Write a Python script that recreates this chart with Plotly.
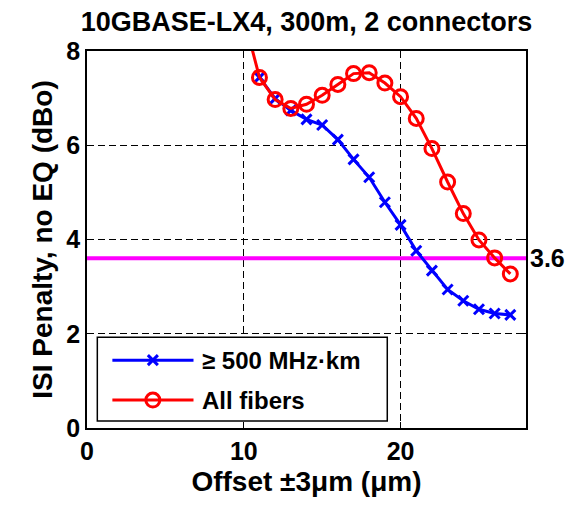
import plotly.graph_objects as go

# ---- data ----
offset_500 = [11, 12, 13, 14, 15, 16, 17, 18, 19, 20, 21, 22, 23, 24, 25, 26, 27]
penalty_500 = [7.44, 6.99, 6.74, 6.55, 6.43, 6.12, 5.70, 5.32, 4.79, 4.31, 3.76, 3.34, 2.94, 2.70, 2.52, 2.43, 2.40]

offset_all = [10, 11, 12, 13, 14, 15, 16, 17, 18, 19, 20, 21, 22, 23, 24, 25, 26, 27]
penalty_all = [8.72, 7.44, 6.97, 6.78, 6.87, 7.06, 7.29, 7.52, 7.54, 7.32, 7.03, 6.57, 5.93, 5.22, 4.55, 3.99, 3.61, 3.27]

limit_value = 3.6
x_range = [0, 28]
y_range = [0, 8]
x_ticks = [0, 10, 20]
y_ticks = [0, 2, 4, 6, 8]
legend_labels = ["\u2265 500 MHz\u00b7km", "All fibers"]
title_text = "10GBASE-LX4, 300m, 2 connectors"
x_title = "Offset \u00b13\u03bcm (\u03bcm)"
y_title = "ISI Penalty, no EQ (dBo)"

FONT = "Liberation Sans, Arial, sans-serif"
BLUE = "#0000FF"
RED = "#FF0000"
MAGENTA = "#FF00FF"

# page body has an 8px margin; compensate so the figure lands where the reference is
PAGE_OFF = 8
W, H = 574 - PAGE_OFF, 505 - PAGE_OFF

fig = go.Figure()

fig.add_trace(go.Scatter(
    x=x_range, y=[limit_value, limit_value], mode="lines",
    line=dict(color=MAGENTA, width=4), showlegend=False, hoverinfo="skip"))

fig.add_trace(go.Scatter(
    x=offset_500, y=penalty_500, mode="lines+markers", name=legend_labels[0],
    line=dict(color=BLUE, width=3),
    marker=dict(symbol="x-thin", size=10, line=dict(color=BLUE, width=3), color=BLUE),
    showlegend=False))

fig.add_trace(go.Scatter(
    x=offset_all, y=penalty_all, mode="lines+markers", name=legend_labels[1],
    line=dict(color=RED, width=3),
    marker=dict(symbol="circle-open", size=14, line=dict(color=RED, width=3), color=RED),
    showlegend=False))

# ---- custom legend (paper coords) ----
bx0, bx1, by0, by1 = 0.0235, 0.684, 0.0186, 0.241
rows_y = [0.180, 0.0742]
lx0, lx1, lmid = 0.0578, 0.2426, 0.150
shapes = [dict(type="rect", xref="paper", yref="paper", x0=bx0, x1=bx1, y0=by0, y1=by1,
               fillcolor="white", line=dict(color="black", width=1.5), layer="above")]
colors = [BLUE, RED]
for i, ry in enumerate(rows_y):
    shapes.append(dict(type="line", xref="paper", yref="paper", x0=lx0, x1=lx1, y0=ry, y1=ry,
                       line=dict(color=colors[i], width=3), layer="above"))
for sgn in (1, -1):
    shapes.append(dict(type="line", xref="paper", yref="paper", xsizemode="pixel", ysizemode="pixel",
                       xanchor=lmid, yanchor=rows_y[0], x0=-5, x1=5, y0=-5 * sgn, y1=5 * sgn,
                       line=dict(color=BLUE, width=3), layer="above"))
shapes.append(dict(type="circle", xref="paper", yref="paper", xsizemode="pixel", ysizemode="pixel",
                   xanchor=lmid, yanchor=rows_y[1], x0=-7, x1=7, y0=-7, y1=7,
                   line=dict(color=RED, width=3), layer="above"))

annotations = []
for i, ry in enumerate(rows_y):
    annotations.append(dict(xref="paper", yref="paper", x=0.2585, y=ry, text=legend_labels[i],
                            showarrow=False, xanchor="left", yanchor="middle",
                            font=dict(family=FONT, size=24, color="black", weight="bold")))
annotations.append(dict(xref="paper", yref="y", x=1.0, y=limit_value, text=str(limit_value),
                        showarrow=False, xanchor="left", yanchor="middle", xshift=2,
                        font=dict(family=FONT, size=25, color="black", weight="bold")))

axis_common = dict(
    showline=True, linecolor="black", linewidth=1.5, mirror="ticks",
    ticks="inside", ticklen=6, tickcolor="black", tickwidth=1,
    showgrid=True, gridcolor="black", gridwidth=1, griddash="7px,4px",
    zeroline=False, automargin=False,
    tickfont=dict(family=FONT, size=25, color="black", weight="bold"),
)

fig.update_layout(
    width=W, height=H,
    margin=dict(l=87 - PAGE_OFF, r=48, t=51 - PAGE_OFF, b=77),
    paper_bgcolor="white", plot_bgcolor="white",
    title=dict(text=title_text, x=0.5, xref="paper", xanchor="center",
               y=1 - (22 - PAGE_OFF) / H, yanchor="middle",
               font=dict(family=FONT, size=27, color="black", weight="bold")),
    xaxis=dict(range=x_range, tickvals=x_ticks,
               title=dict(text=x_title, standoff=8,
                          font=dict(family=FONT, size=28, color="black", weight="bold")),
               **axis_common),
    yaxis=dict(range=y_range, tickvals=y_ticks,
               title=dict(text=y_title, standoff=6,
                          font=dict(family=FONT, size=28, color="black", weight="bold")),
               **axis_common),
    shapes=shapes,
    annotations=annotations,
    showlegend=False,
)

fig.write_html("out.html")
